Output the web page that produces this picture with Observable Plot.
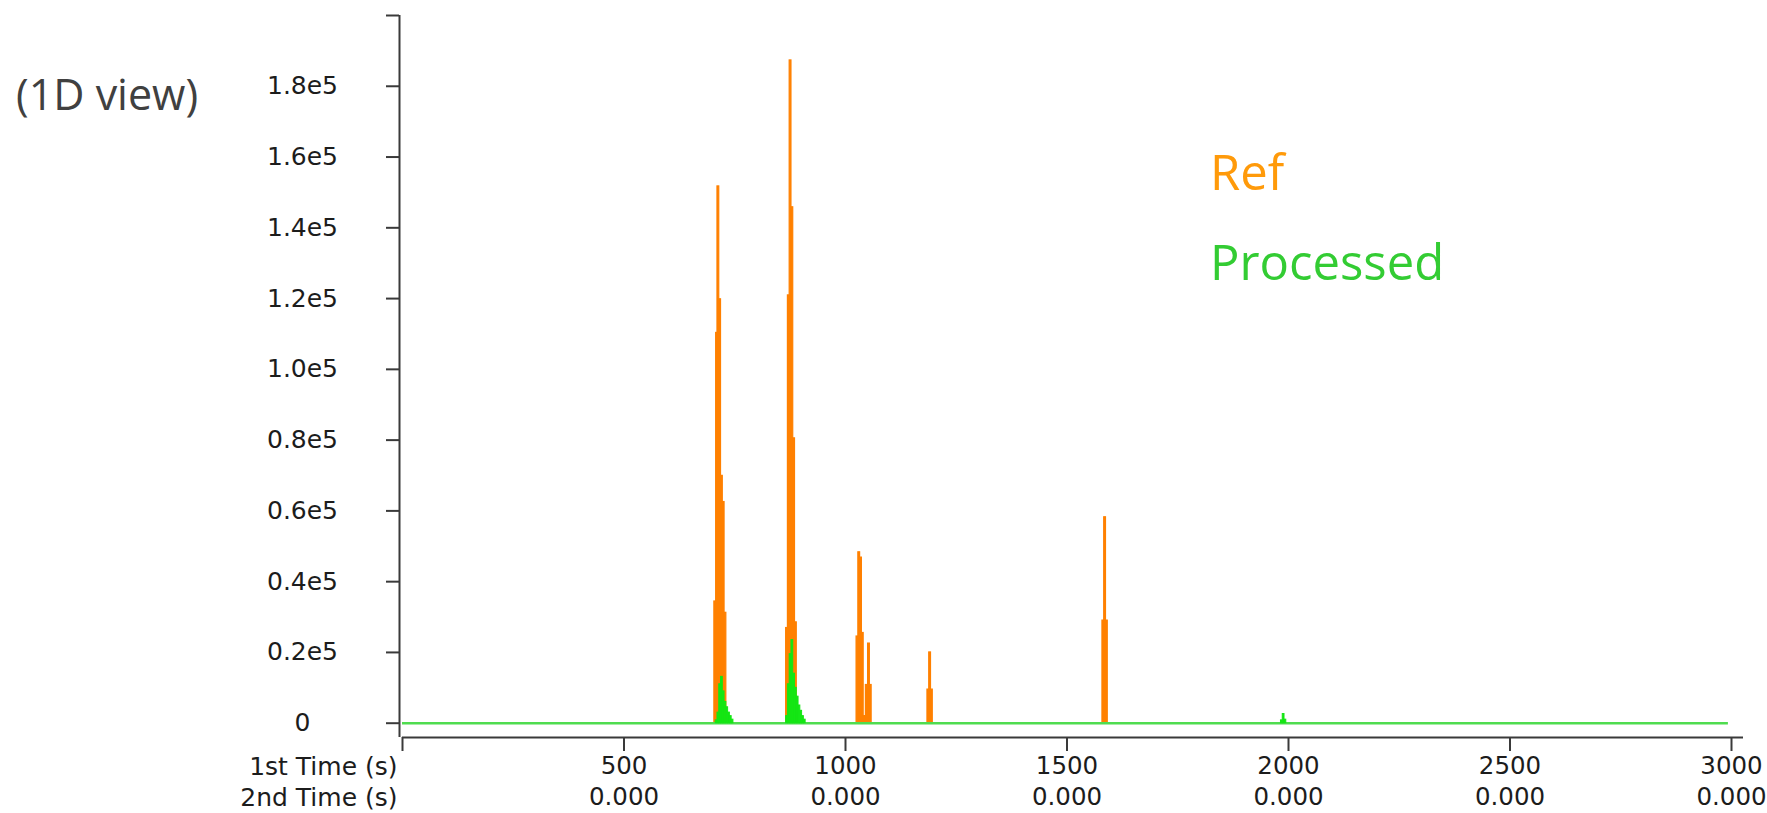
<!DOCTYPE html>
<html>
<head>
<meta charset="utf-8">
<script src="https://cdn.jsdelivr.net/npm/d3@7"></script>
<script src="https://cdn.jsdelivr.net/npm/@observablehq/plot@0.6"></script>
<style>
  html, body { margin: 0; padding: 0; background: #ffffff; }
  #wrap { position: relative; width: 1767px; height: 813px; overflow: hidden; }
  .lab { position: absolute; font-family: "Open Sans", sans-serif; line-height: 1; white-space: nowrap; }
</style>
</head>
<body>
<div id="wrap">
  <div class="lab" style="left:16px; top:72px; font-size:43px; color:#404040;">(1D view)</div>
  <div class="lab" style="left:1210px; top:147px; font-size:49px; color:#ff9a0a;">Ref</div>
  <div class="lab" style="left:1210px; top:237px; font-size:49px; color:#33cc33;">Processed</div>
</div>
<script>
// ---- data ----
// Ref signal: one bar per modulation (1st time, s) and its intensity
const refTimes  = [706, 710, 713, 717, 721, 725, 729,
                   868, 872, 876, 880, 884, 888,
                   1027, 1031, 1035, 1039, 1044, 1048, 1053, 1057,
                   1187, 1191, 1195,
                   1582, 1586, 1590];
const refValues = [34400, 110300, 151700, 119800, 69900, 62500, 31200,
                   26900, 120900, 187300, 145800, 80500, 28500,
                   24500, 48300, 46800, 25500, 2000, 10800, 22500, 10800,
                   9500, 20000, 9500,
                   29000, 58200, 29000];
// Processed signal
const procTimes  = [709, 713, 717, 721, 725, 729, 733, 737, 741, 745,
                    868, 872, 876, 880, 884, 888, 892, 896, 900, 904, 908,
                    1985, 1989, 1993];
const procValues = [800, 3000, 11000, 13100, 9000, 6000, 4500, 3000, 2000, 1000,
                    2000, 11000, 19500, 23500, 14000, 10000, 7500, 5000, 3500, 2000, 1000,
                    800, 2600, 1000];
const procStart = 0, procEnd = 2993;       // extent of the processed baseline
const modulation = 4;                      // seconds per bar

// axes
const yTicks = [0, 20000, 40000, 60000, 80000, 100000, 120000, 140000, 160000, 180000, 200000];
const yTickLabels = ["0", "0.2e5", "0.4e5", "0.6e5", "0.8e5", "1.0e5", "1.2e5", "1.4e5", "1.6e5", "1.8e5", ""];
const xTicks = [0, 500, 1000, 1500, 2000, 2500, 3000];
const xTickLabels1 = ["1st Time (s)", "500", "1000", "1500", "2000", "2500", "3000"];
const xTickLabels2 = ["2nd Time (s)", "0.000", "0.000", "0.000", "0.000", "0.000", "0.000"];
const yMin = -4040, yMax = 200000;

const ref = refTimes.map((t, i) => ({t, v: refValues[i]}));
const proc = procTimes.map((t, i) => ({t, v: procValues[i]}));
const xLab = xTicks.map((t, i) => ({t, a: xTickLabels1[i], b: xTickLabels2[i]}));
const yLab = yTicks.map((v, i) => ({v, s: yTickLabels[i]}));

const axisColor = "#3a3a3a";
const textColor = "#1c1c1c";

const chart = Plot.plot({
  width: 1767,
  height: 813,
  marginLeft: 402,
  marginRight: 36,
  marginTop: 15,
  marginBottom: 76,
  x: {domain: [0, 3000]},
  y: {domain: [yMin, yMax]},
  style: {fontFamily: "DejaVu Sans", fontSize: "25px", color: textColor, background: "transparent", overflow: "visible"},
  marks: [
    // Ref bars
    Plot.rectY(ref, {x1: d => d.t - modulation / 2, x2: d => d.t + modulation / 2, y: "v", fill: "#ff8000", stroke: "#ff8000", strokeWidth: 1.2, inset: 0}),
    // Processed baseline and bars
    Plot.ruleY([0], {x1: procStart, x2: procEnd, stroke: "#4fdc4f", strokeWidth: 2.5}),
    Plot.rectY(proc, {x1: d => d.t - modulation / 2, x2: d => d.t + modulation / 2, y: "v", fill: "#14e614", stroke: "#14e614", strokeWidth: 1, inset: 0}),
    // y axis
    Plot.ruleX([0], {dx: -3, stroke: axisColor, strokeWidth: 2}),
    Plot.axisY({ticks: yTicks, tickSize: 13, dx: -3, tickFormat: () => "", label: null, stroke: axisColor, strokeWidth: 2}),
    Plot.text(yLab, {y: "v", text: "s", frameAnchor: "left", dx: -100, textAnchor: "middle", fontSize: 25, fill: textColor}),
    // x axis
    Plot.ruleY([yMin], {stroke: axisColor, strokeWidth: 2, insetRight: -12}),
    Plot.axisX({ticks: xTicks, tickSize: 14, tickFormat: () => "", label: null, stroke: axisColor, strokeWidth: 2}),
    Plot.text(xLab.slice(1), {x: "t", text: d => d.a + "\n" + d.b, frameAnchor: "bottom", lineAnchor: "top", dy: 15, lineHeight: 1.26, textAnchor: "middle", fontSize: 24.5, fill: textColor}),
    Plot.text(xLab.slice(0, 1), {x: "t", text: d => d.a + "\n" + d.b, frameAnchor: "bottom", lineAnchor: "top", dy: 15, dx: -5, lineHeight: 1.26, textAnchor: "end", fontSize: 25, fill: textColor})
  ]
});
chart.style.position = "absolute";
chart.style.left = "0px";
chart.style.top = "0px";
document.getElementById("wrap").prepend(chart);
</script>
</body>
</html>
